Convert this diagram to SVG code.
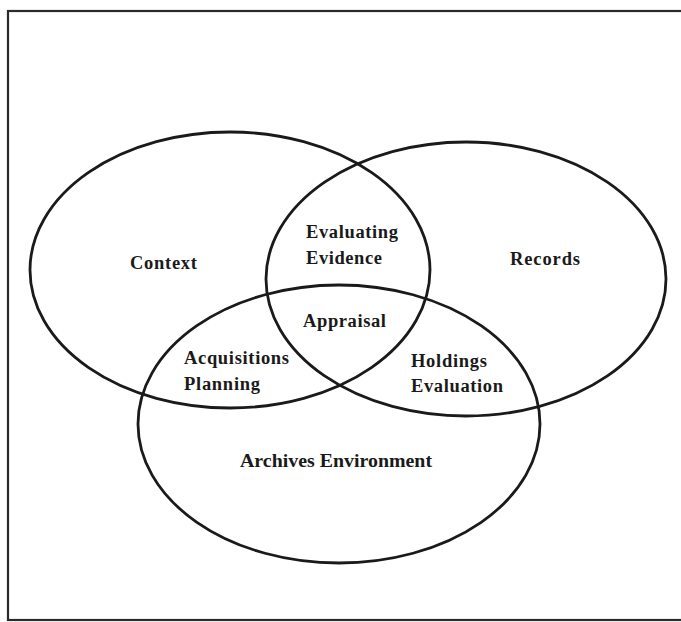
<svg xmlns="http://www.w3.org/2000/svg" width="681" height="622" viewBox="0 0 681 622">
  <style>
    .set { fill: none; stroke: #1a1a1a; stroke-width: 2.8; }
    .lbl { font-family: "Liberation Serif", "Times New Roman", serif; font-weight: bold; font-size: 18.5px; fill: #1a1a1a; }
    .frame { fill: none; stroke: #2a2a2a; stroke-width: 2.2; }
  </style>
  <rect width="681" height="622" fill="#ffffff"/>
  <rect class="frame" x="8" y="11" width="690" height="609"/>
  <g id="connectors"/>
  <g id="context">
    <ellipse class="set" cx="230" cy="270" rx="200" ry="138"/>
    <text class="lbl" x="130" y="269" textLength="67" lengthAdjust="spacing">Context</text>
  </g>
  <g id="records">
    <ellipse class="set" cx="466" cy="279" rx="200" ry="137"/>
    <text class="lbl" x="510" y="265" textLength="70" lengthAdjust="spacing">Records</text>
  </g>
  <g id="archives-environment">
    <ellipse class="set" cx="339" cy="424" rx="201" ry="139"/>
    <text class="lbl" x="240" y="467" textLength="192" lengthAdjust="spacingAndGlyphs">Archives Environment</text>
  </g>
  <g id="evaluating-evidence">
    <text class="lbl" x="306" y="238" textLength="92" lengthAdjust="spacing">Evaluating</text>
    <text class="lbl" x="306" y="264" textLength="76" lengthAdjust="spacing">Evidence</text>
  </g>
  <g id="appraisal">
    <text class="lbl" x="303" y="327" textLength="83" lengthAdjust="spacing">Appraisal</text>
  </g>
  <g id="acquisitions-planning">
    <text class="lbl" x="184" y="364" textLength="105" lengthAdjust="spacing">Acquisitions</text>
    <text class="lbl" x="184" y="390" textLength="76" lengthAdjust="spacing">Planning</text>
  </g>
  <g id="holdings-evaluation">
    <text class="lbl" x="411" y="367" textLength="76" lengthAdjust="spacing">Holdings</text>
    <text class="lbl" x="411" y="392" textLength="92" lengthAdjust="spacing">Evaluation</text>
  </g>
</svg>
